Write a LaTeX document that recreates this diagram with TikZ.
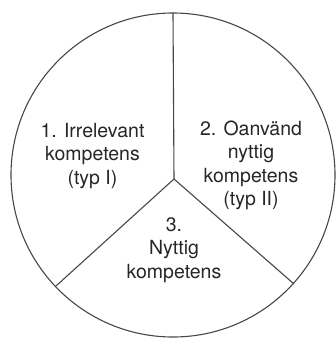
\documentclass[tikz,border=0pt]{standalone}
\usepackage{fontspec}
\setmainfont{TeX Gyre Heros}
\begin{document}
\begin{tikzpicture}[x=1pt,y=-1pt,
  rim/.style={draw=black!72,line width=1.1pt},
  spoke/.style={draw=black!72,line width=1.1pt},
  lbl/.style={anchor=north,inner sep=0pt,align=center,text=black!85,
    font=\fontsize{19.5}{23.5}\selectfont}]
\useasboundingbox (0,0) rectangle (336,338);
\coordinate (C) at (173,175);
\draw[rim] (C) circle[radius=162];
\coordinate (hub) at (174,179);
\coordinate (top) at (173,13);
\coordinate (left) at (56,286);
\coordinate (right) at (294,284);
\draw[spoke] (hub) -- (top);
\draw[spoke] (hub) -- (left);
\draw[spoke] (hub) -- (right);
\node[lbl] (l1) at (92.5,122.7) {1. Irrelevant\\kompetens\\(typ I)};
\node[lbl] (l2) at (251,120.7) {2. Oanvänd\\nyttig\\kompetens\\(typ II)};
\node[lbl] (l3) at (174,217) {3.\\Nyttig\\kompetens};
\end{tikzpicture}
\end{document}
